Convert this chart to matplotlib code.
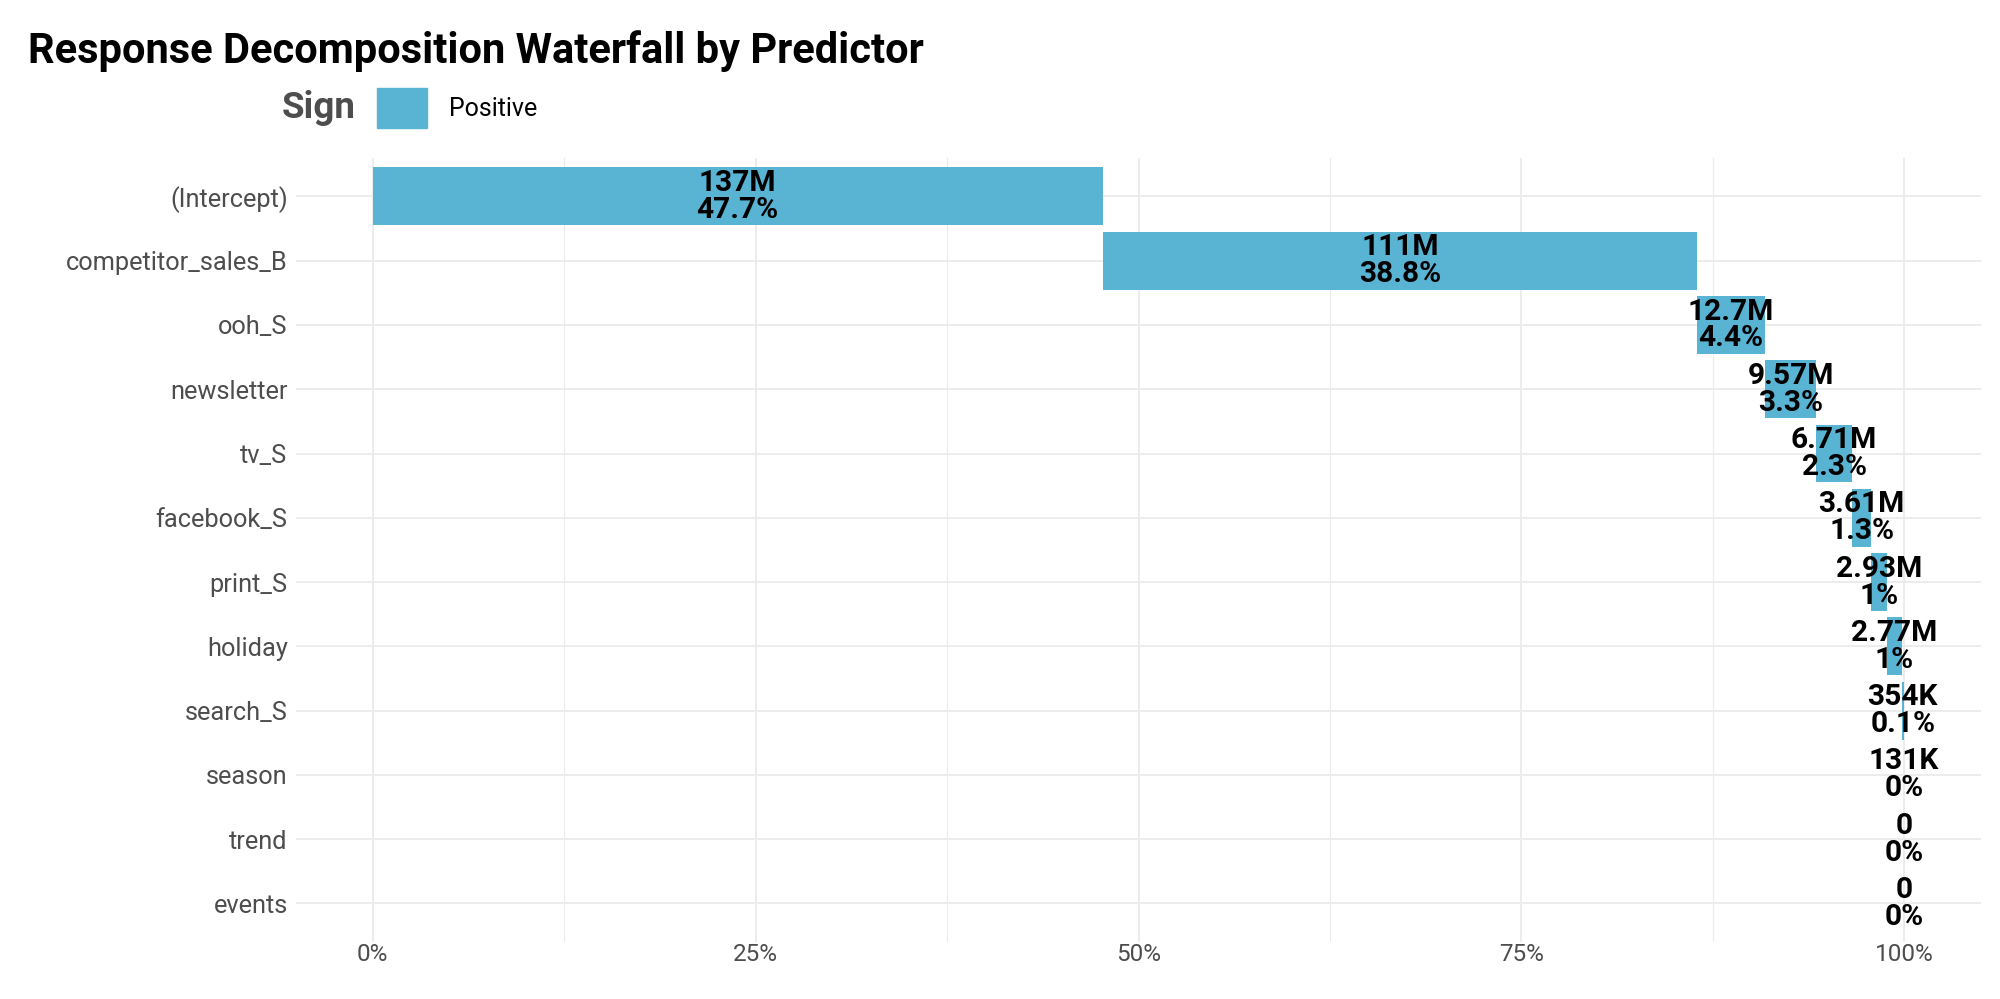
import matplotlib
matplotlib.use("Agg")
import matplotlib.pyplot as plt
from matplotlib.patches import Patch
from matplotlib.ticker import FixedLocator, PercentFormatter

plt.rcParams['font.family'] = ['Roboto', 'DejaVu Sans']

# predictors, top to bottom, and their decomposed response
predictors = ['(Intercept)', 'competitor_sales_B', 'ooh_S', 'newsletter', 'tv_S',
              'facebook_S', 'print_S', 'holiday', 'search_S', 'season', 'trend', 'events']
decomp = [136.6e6, 111.2e6, 12.7e6, 9.57e6, 6.71e6, 3.61e6, 2.93e6, 2.77e6,
          354e3, 131e3, 0, 0]

BAR = '#59B3D2'
GRID = '#ebebeb'


def abbr(v):
    if v >= 1e6:
        return f"{v / 1e6:.3g}M"
    if v >= 1e3:
        return f"{v / 1e3:.3g}K"
    return f"{v:.3g}"


total = sum(decomp)
perc = [v / total for v in decomp]
starts = []
acc = 0
for p in perc:
    starts.append(acc)
    acc += p

fig = plt.figure(figsize=(20, 9.99), dpi=100)
ax = fig.add_axes([0.148, 0.057, 0.8425, 0.785])

ypos = list(range(len(predictors)))
ax.barh(ypos, perc, left=starts, height=0.9, color=BAR, zorder=2)

for y, s, p, v in zip(ypos, starts, perc, decomp):
    lab = f"{abbr(v)}\n{round(p * 100, 1):g}%"
    ax.text(s + p / 2, y, lab, ha='center', va='center', fontsize=21.5,
            fontweight='bold', color='black', linespacing=0.95, zorder=3)

ax.set_xlim(-0.05, 1.05)
ax.set_ylim(len(predictors) - 0.4, -0.6)
ax.set_yticks(ypos)
ax.set_yticklabels(predictors)
ax.xaxis.set_major_locator(FixedLocator([0, 0.25, 0.5, 0.75, 1.0]))
ax.xaxis.set_minor_locator(FixedLocator([0.125, 0.375, 0.625, 0.875]))
ax.xaxis.set_major_formatter(PercentFormatter(1.0, decimals=0))

ax.grid(True, which='major', color=GRID, lw=1.3, zorder=0)
ax.grid(True, which='minor', axis='x', color=GRID, lw=0.8, zorder=0)
ax.set_axisbelow(True)
for sp in ax.spines.values():
    sp.set_visible(False)
ax.tick_params(axis='both', which='both', length=0)
ax.tick_params(axis='y', labelsize=18.3, labelcolor='#4d4d4d', pad=6)
ax.tick_params(axis='x', labelsize=17.5, labelcolor='#4d4d4d', pad=1)

fig.text(0.014, 0.949, 'Response Decomposition Waterfall by Predictor',
         fontsize=30, fontweight='bold', color='black', va='center', ha='left')

fig.text(0.141, 0.892, 'Sign', fontsize=26.5, fontweight='bold', color='#4d4d4d',
         va='center', ha='left')
fig.legend(handles=[Patch(color=BAR)], labels=['Positive'], loc='center left',
           bbox_to_anchor=(0.1885, 0.892), frameon=False, fontsize=18,
           handlelength=2.0, handleheight=2.1, handletextpad=0.88,
           borderaxespad=0, borderpad=0)

fig.savefig('out.png', dpi=100)
